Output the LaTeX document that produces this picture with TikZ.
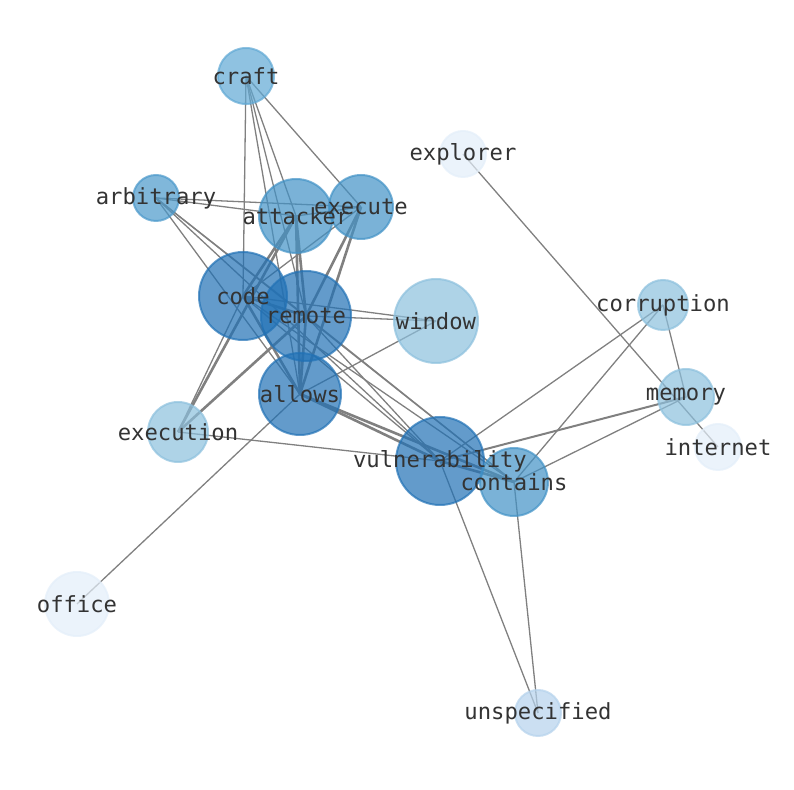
\documentclass[tikz,border=0pt]{standalone}
\usepackage{fontspec}
\newfontfamily\monofont{DejaVu Sans Mono}
\definecolor{bluedark}{HTML}{2171B5}
\definecolor{bluemid}{HTML}{4292C6}
\definecolor{bluearb}{HTML}{4A98CA}
\definecolor{bluecraft}{HTML}{60A8D4}
\definecolor{bluelight}{HTML}{8CC0DD}
\definecolor{bluepale}{HTML}{B5D2EC}
\definecolor{bluefaint}{HTML}{E3EEF9}
\definecolor{labelgray}{HTML}{333333}
\pgfdeclarelayer{edges}
\pgfsetlayers{edges,main}
\tikzset{
  vtx/.style={circle,inner sep=0pt,outer sep=0pt,minimum size=#1pt,opacity=0.7,line width=1pt},
  word/.style={font=\monofont\fontsize{11.1}{12}\selectfont,text=labelgray,inner sep=0pt},
  thin/.style={draw=gray,line width=0.65pt},
  thick/.style={draw=gray,line width=1.3pt}
}
\begin{document}
\begin{tikzpicture}[x=0.5pt,y=-0.5pt]
	\useasboundingbox (0,0) rectangle (794,790);
	% words
	\node [vtx=28,fill=bluecraft,draw=bluecraft] (craft) at (246,76) {};
	\node [vtx=23,fill=bluefaint,draw=bluefaint] (explorer) at (463,154) {};
	\node [vtx=23,fill=bluearb,draw=bluearb] (arbitrary) at (156,198) {};
	\node [vtx=37,fill=bluemid,draw=bluemid] (attacker) at (296,216) {};
	\node [vtx=32,fill=bluemid,draw=bluemid] (execute) at (361,207) {};
	\node [vtx=44,fill=bluedark,draw=bluedark] (code) at (243,296) {};
	\node [vtx=45,fill=bluedark,draw=bluedark] (remote) at (306,316) {};
	\node [vtx=42,fill=bluelight,draw=bluelight] (window) at (436,321) {};
	\node [vtx=25,fill=bluelight,draw=bluelight] (corruption) at (663,305) {};
	\node [vtx=41,fill=bluedark,draw=bluedark] (allows) at (300,394) {};
	\node [vtx=28,fill=bluelight,draw=bluelight] (memory) at (686,397) {};
	\node [vtx=30,fill=bluelight,draw=bluelight] (execution) at (178,432) {};
	\node [vtx=23,fill=bluefaint,draw=bluefaint] (internet) at (718,447) {};
	\node [vtx=44,fill=bluedark,draw=bluedark] (vulnerability) at (440,461) {};
	\node [vtx=34,fill=bluemid,draw=bluemid] (contains) at (514,482) {};
	\node [vtx=32,fill=bluefaint,draw=bluefaint] (office) at (77,604) {};
	\node [vtx=23,fill=bluepale,draw=bluepale] (unspecified) at (538,713) {};
	% labels on top
	\foreach \w in {craft,explorer,arbitrary,attacker,execute,code,remote,window,corruption,allows,memory,execution,internet,vulnerability,contains,office,unspecified}
		\node [word] (\w-txt) at (\w.center) {\w};
	% links
	\begin{pgfonlayer}{edges}
		\foreach \a/\b in {craft/code,craft/attacker,craft/remote,craft/allows,craft/execute,
			arbitrary/attacker,arbitrary/execute,arbitrary/remote,arbitrary/allows,arbitrary/vulnerability,arbitrary/contains,
			attacker/execute,execute/code,execution/code,execution/vulnerability,
			code/window,remote/window,allows/window,allows/office,
			code/vulnerability,code/contains,remote/vulnerability,remote/contains,
			vulnerability/corruption,vulnerability/unspecified,contains/corruption,contains/memory,contains/unspecified,
			corruption/memory,explorer/internet}
			\draw [thin] (\a.center) -- (\b.center);
		\draw [draw=gray,line width=1pt] (vulnerability.center) -- (memory.center);
		\foreach \a/\b in {attacker/code,attacker/remote,attacker/allows,attacker/execution,
			execute/remote,execute/allows,code/remote,code/allows,remote/allows,remote/execution,
			allows/vulnerability,allows/contains,vulnerability/contains}
			\draw [thick] (\a.center) -- (\b.center);
	\end{pgfonlayer}
\end{tikzpicture}
\end{document}
